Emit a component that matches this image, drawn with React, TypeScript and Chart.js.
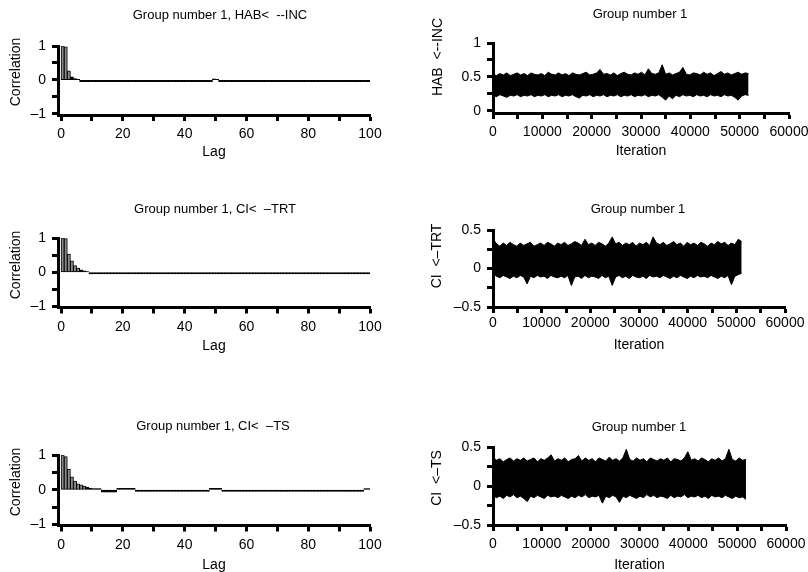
import React, { useEffect, useRef } from "react";
import { Chart, registerables } from "chart.js";

Chart.register(...registerables);

const CW = 808;
const CH = 600;
const FONT = "'Liberation Sans', Arial, Helvetica, sans-serif";

// ---------- tick definitions ----------
const lagTicks = [0, 10, 20, 30, 40, 50, 60, 70, 80, 90, 100];
const lagLabels = [0, 20, 40, 60, 80, 100];
const iterTicks = [0, 5000, 10000, 15000, 20000, 25000, 30000, 35000, 40000, 45000, 50000, 55000, 60000];
const iterLabels = [0, 10000, 20000, 30000, 40000, 50000, 60000];
const corrTicks = [-1, -0.5, 0, 0.5, 1];
const corrLabels = [-1, 0, 1];
const habTicks = [0, 0.25, 0.5, 0.75, 1];
const habLabels = [0, 0.5, 1];
const ciTicks = [-0.5, -0.25, 0, 0.25, 0.5];
const ciLabels = [-0.5, 0, 0.5];

// ---------- autocorrelation values (lag 0..100) ----------
const acfHAB = [
  1.0, 0.97, 0.27, 0.09, 0.04, 0.02, -0.05, -0.05, -0.05, -0.05,
  -0.05, -0.05, -0.05, -0.05, -0.05, -0.05, -0.05, -0.05, -0.05, -0.05,
  -0.05, -0.05, -0.05, -0.05, -0.05, -0.05, -0.05, -0.05, -0.05, -0.05,
  -0.05, -0.05, -0.05, -0.05, -0.05, -0.05, -0.05, -0.05, -0.05, -0.05,
  -0.05, -0.05, -0.05, -0.05, -0.05, -0.05, -0.05, -0.05, -0.05, 0.03,
  0.02, -0.05, -0.05, -0.05, -0.05, -0.05, -0.05, -0.05, -0.05, -0.05,
  -0.05, -0.05, -0.05, -0.05, -0.05, -0.05, -0.05, -0.05, -0.05, -0.05,
  -0.05, -0.05, -0.05, -0.05, -0.05, -0.05, -0.05, -0.05, -0.05, -0.05,
  -0.05, -0.05, -0.05, -0.05, -0.05, -0.05, -0.05, -0.05, -0.05, -0.05,
  -0.05, -0.05, -0.05, -0.05, -0.05, -0.05, -0.05, -0.05, -0.05, -0.05,
  -0.05,
];
const acfTRT = [
  1.0, 0.98, 0.53, 0.33, 0.19, 0.12, 0.07, 0.04, 0.02, -0.05,
  -0.05, -0.05, -0.05, -0.05, -0.05, -0.05, -0.05, -0.05, -0.05, -0.05,
  -0.05, -0.05, -0.05, -0.05, -0.05, -0.05, -0.05, -0.05, -0.05, -0.05,
  -0.05, -0.05, -0.05, -0.05, -0.05, -0.05, -0.05, -0.05, -0.05, -0.05,
  -0.05, -0.05, -0.05, -0.05, -0.05, -0.05, -0.05, -0.05, -0.05, -0.05,
  -0.05, -0.05, -0.05, -0.05, -0.05, -0.05, -0.05, -0.05, -0.05, -0.05,
  -0.05, -0.05, -0.05, -0.05, -0.05, -0.05, -0.05, -0.05, -0.05, -0.05,
  -0.05, -0.05, -0.05, -0.05, -0.05, -0.05, -0.05, -0.05, -0.05, -0.05,
  -0.05, -0.05, -0.05, -0.05, -0.05, -0.05, -0.05, -0.05, -0.05, -0.05,
  -0.05, -0.05, -0.05, -0.05, -0.05, -0.05, -0.05, -0.05, -0.05, -0.05,
  -0.05,
];
const acfTS = [
  1.0, 0.95, 0.59, 0.37, 0.25, 0.17, 0.14, 0.1, 0.07, 0.04,
  0.03, 0.03, 0.03, -0.07, -0.07, -0.07, -0.07, -0.07, 0.04, 0.04,
  0.04, 0.04, 0.04, 0.04, -0.05, -0.05, -0.05, -0.05, -0.05, -0.05,
  -0.05, -0.05, -0.05, -0.05, -0.05, -0.05, -0.05, -0.05, -0.05, -0.05,
  -0.05, -0.05, -0.05, -0.05, -0.05, -0.05, -0.05, -0.05, 0.04, 0.04,
  0.04, 0.04, -0.05, -0.05, -0.05, -0.05, -0.05, -0.05, -0.05, -0.05,
  -0.05, -0.05, -0.05, -0.05, -0.05, -0.05, -0.05, -0.05, -0.05, -0.05,
  -0.05, -0.05, -0.05, -0.05, -0.05, -0.05, -0.05, -0.05, -0.05, -0.05,
  -0.05, -0.05, -0.05, -0.05, -0.05, -0.05, -0.05, -0.05, -0.05, -0.05,
  -0.05, -0.05, -0.05, -0.05, -0.05, -0.05, -0.05, -0.05, 0.03, 0.03,
  0.03,
];

// ---------- trace envelopes (sampled every 700 iterations) ----------
const iterStep = 700;
const habUpper = [
  0.54, 0.52, 0.55, 0.53, 0.56, 0.52, 0.54, 0.56, 0.53, 0.55,
  0.52, 0.56, 0.54, 0.53, 0.55, 0.52, 0.57, 0.54, 0.53, 0.56,
  0.53, 0.55, 0.52, 0.56, 0.54, 0.53, 0.55, 0.57, 0.53, 0.54,
  0.56, 0.61, 0.54, 0.55, 0.53, 0.56, 0.52, 0.55, 0.57, 0.54,
  0.53, 0.56, 0.54, 0.57, 0.53, 0.62, 0.55, 0.54, 0.56, 0.68,
  0.54, 0.56, 0.53, 0.55, 0.57, 0.64, 0.54, 0.53, 0.56, 0.55,
  0.53, 0.57, 0.54, 0.56, 0.52, 0.55, 0.58, 0.54, 0.56, 0.53,
  0.55, 0.57, 0.54, 0.56, 0.55,
];
const habLower = [
  0.23, 0.21, 0.24, 0.22, 0.2, 0.23, 0.22, 0.24, 0.21, 0.23,
  0.22, 0.24, 0.21, 0.23, 0.22, 0.24, 0.21, 0.23, 0.22, 0.24,
  0.21, 0.23, 0.22, 0.24, 0.21, 0.19, 0.23, 0.22, 0.24, 0.21,
  0.23, 0.22, 0.24, 0.21, 0.23, 0.22, 0.24, 0.21, 0.23, 0.22,
  0.24, 0.21, 0.23, 0.22, 0.24, 0.21, 0.23, 0.22, 0.24, 0.2,
  0.16, 0.22, 0.18, 0.23, 0.21, 0.24, 0.22, 0.23, 0.21, 0.24,
  0.22, 0.23, 0.21, 0.24, 0.22, 0.23, 0.21, 0.24, 0.22, 0.23,
  0.2, 0.16, 0.22, 0.24, 0.23,
];
const trtUpper = [
  0.39, 0.32, 0.29, 0.33, 0.3, 0.34, 0.31, 0.29, 0.33, 0.3,
  0.32, 0.34, 0.29, 0.31, 0.33, 0.3, 0.34, 0.32, 0.29, 0.33,
  0.31, 0.34, 0.3, 0.32, 0.35, 0.33, 0.3, 0.38, 0.31, 0.33,
  0.3, 0.34, 0.32, 0.29, 0.33, 0.41, 0.32, 0.34, 0.3, 0.33,
  0.31, 0.34, 0.29, 0.33, 0.31, 0.34, 0.3, 0.41, 0.33, 0.31,
  0.34, 0.3, 0.32, 0.35, 0.31, 0.33, 0.29, 0.34, 0.31, 0.33,
  0.3, 0.34, 0.32, 0.29, 0.33, 0.31, 0.35, 0.32, 0.34, 0.3,
  0.33, 0.31, 0.38, 0.35,
];
const trtLower = [
  -0.07, -0.1, -0.12, -0.09, -0.11, -0.13, -0.1, -0.12, -0.09, -0.11,
  -0.2, -0.1, -0.12, -0.09, -0.11, -0.1, -0.13, -0.09, -0.11, -0.12,
  -0.1, -0.12, -0.09, -0.22, -0.11, -0.1, -0.13, -0.09, -0.12, -0.1,
  -0.11, -0.13, -0.09, -0.12, -0.1, -0.22, -0.11, -0.09, -0.12, -0.1,
  -0.13, -0.09, -0.11, -0.12, -0.1, -0.13, -0.09, -0.11, -0.1, -0.12,
  -0.09, -0.11, -0.13, -0.1, -0.12, -0.09, -0.11, -0.13, -0.1, -0.12,
  -0.09, -0.11, -0.1, -0.12, -0.09, -0.11, -0.13, -0.1, -0.12, -0.09,
  -0.21, -0.1, -0.08, -0.06,
];
const tsUpper = [
  0.37, 0.33, 0.35, 0.31, 0.34, 0.36, 0.32, 0.35, 0.33, 0.36,
  0.32, 0.34, 0.36, 0.31, 0.35, 0.33, 0.36, 0.4, 0.32, 0.35,
  0.33, 0.36, 0.31, 0.34, 0.35, 0.39, 0.32, 0.36, 0.33, 0.35,
  0.31, 0.36, 0.34, 0.32, 0.37, 0.33, 0.35, 0.32, 0.36, 0.47,
  0.34, 0.32, 0.36, 0.33, 0.35, 0.31, 0.36, 0.34, 0.32, 0.35,
  0.33, 0.36, 0.31, 0.35, 0.34, 0.32, 0.36, 0.44, 0.33, 0.35,
  0.32, 0.36, 0.34, 0.31, 0.35, 0.33, 0.36, 0.32, 0.35, 0.47,
  0.34, 0.32, 0.36, 0.33, 0.34,
];
const tsLower = [
  -0.12, -0.15, -0.13, -0.16, -0.12, -0.14, -0.11, -0.15, -0.13, -0.16,
  -0.2, -0.13, -0.15, -0.12, -0.14, -0.16, -0.12, -0.14, -0.13, -0.15,
  -0.12, -0.14, -0.16, -0.13, -0.15, -0.12, -0.14, -0.11, -0.15, -0.13,
  -0.14, -0.12, -0.22, -0.13, -0.15, -0.12, -0.14, -0.21, -0.13, -0.15,
  -0.12, -0.14, -0.16, -0.13, -0.15, -0.11, -0.14, -0.12, -0.15, -0.13,
  -0.14, -0.16, -0.12, -0.15, -0.13, -0.14, -0.11, -0.15, -0.13, -0.14,
  -0.12, -0.15, -0.13, -0.16, -0.12, -0.14, -0.13, -0.15, -0.12, -0.14,
  -0.16, -0.13, -0.15, -0.14, -0.17,
];

// ---------- helpers ----------
const fmt = (v: number) => (v < 0 ? "\u2013" + String(Math.abs(v)) : String(v));

const textPlugin = {
  id: "panelText",
  afterDraw(chart: any, _args: any, opts: any) {
    const ctx = chart.ctx;
    (opts.items || []).forEach((it: any) => {
      ctx.save();
      ctx.fillStyle = "#000";
      ctx.font = `${it.size}px ${FONT}`;
      ctx.textAlign = "center";
      ctx.textBaseline = "middle";
      ctx.translate(it.x, it.y);
      if (it.rotate) ctx.rotate(-Math.PI / 2);
      ctx.fillText(it.text, 0, 0);
      ctx.restore();
    });
  },
};

type Area = { left: number; right: number; top: number; bottom: number };
const YW = 50;

function xAxis(min: number, max: number, ticks: number[], labels: number[], title: string, titleY: number, area: Area, pad: number) {
  return {
    type: "linear",
    position: "bottom",
    min,
    max,
    offset: false,
    border: { display: true, width: 3, color: "#000" },
    grid: { display: true, offset: false, drawOnChartArea: false, drawTicks: true, tickLength: 6, tickWidth: 3, tickColor: "#000" },
    ticks: {
      padding: pad,
      color: "#000",
      autoSkip: false,
      maxRotation: 0,
      font: { family: FONT, size: 14 },
      callback: (v: number) => (labels.includes(v) ? fmt(v) : ""),
    },
    title: { display: true, text: title, color: "#000", padding: 0, font: { family: FONT, size: 14, lineHeight: 1 } },
    afterBuildTicks: (s: any) => {
      s.ticks = ticks.map((v) => ({ value: v }));
    },
    afterFit: (s: any) => {
      s.height = titleY + 7 - area.bottom;
      s.paddingLeft = 0;
      s.paddingRight = 0;
    },
  };
}

function yAxis(min: number, max: number, ticks: number[], labels: number[]) {
  return {
    type: "linear",
    position: "left",
    min,
    max,
    border: { display: true, width: 3, color: "#000" },
    grid: { display: true, drawOnChartArea: false, drawTicks: true, tickLength: 6, tickWidth: 3, tickColor: "#000" },
    ticks: {
      padding: 6,
      color: "#000",
      autoSkip: false,
      font: { family: FONT, size: 14 },
      callback: (v: number) => (labels.includes(v) ? fmt(v) : ""),
    },
    afterBuildTicks: (s: any) => {
      s.ticks = ticks.map((v) => ({ value: v }));
    },
    afterFit: (s: any) => {
      s.width = YW;
      s.paddingTop = 0;
      s.paddingBottom = 0;
    },
  };
}

function layoutFor(area: Area, titleY: number) {
  return {
    padding: {
      left: area.left - YW,
      right: CW - area.right,
      top: area.top,
      bottom: CH - (titleY + 7),
    },
  };
}

type AcfPanel = {
  values: number[];
  area: Area;
  title: string;
  titlePos: [number, number];
  yTitlePos: [number, number];
  xTitleY: number;
  tickPad: number;
};

function acfConfig(p: AcfPanel): any {
  return {
    type: "bar",
    data: {
      datasets: [
        {
          data: p.values.map((v, lag) => ({ x: lag + 0.5, y: v })),
          backgroundColor: (c: any) => {
            const raw = c.raw;
            return raw && Math.abs(raw.y) < 0.1 ? "#000" : "#8a8a8a";
          },
          borderColor: "#000",
          borderWidth: 1,
          borderSkipped: false,
          inflateAmount: 0.4,
          barPercentage: 1,
          categoryPercentage: 1,
        },
      ],
    },
    options: {
      responsive: false,
      animation: false,
      devicePixelRatio: 1,
      layout: layoutFor(p.area, p.xTitleY),
      plugins: {
        legend: { display: false },
        tooltip: { enabled: false },
        panelText: {
          items: [
            { text: p.title, x: p.titlePos[0], y: p.titlePos[1], size: 13 },
            { text: "Correlation", x: p.yTitlePos[0], y: p.yTitlePos[1], size: 14, rotate: true },
          ],
        },
      },
      scales: {
        x: xAxis(-1, 100, lagTicks, lagLabels, "Lag", p.xTitleY, p.area, p.tickPad),
        y: yAxis(-1.03, 1, corrTicks, corrLabels),
      },
    },
    plugins: [textPlugin],
  };
}

type TracePanel = {
  upper: number[];
  lower: number[];
  area: Area;
  yMin: number;
  yMax: number;
  yTicks: number[];
  yLabels: number[];
  yTitle: string;
  titlePos: [number, number];
  yTitlePos: [number, number];
  xTitleY: number;
  tickPad: number;
};

function traceConfig(p: TracePanel): any {
  const ds = (arr: number[]) => arr.map((v, i) => ({ x: i * iterStep, y: v }));
  return {
    type: "line",
    data: {
      datasets: [
        { data: ds(p.upper), borderColor: "#000", borderWidth: 1, pointRadius: 0, tension: 0, fill: false },
        { data: ds(p.lower), borderColor: "#000", borderWidth: 1, pointRadius: 0, tension: 0, fill: "-1", backgroundColor: "#000" },
      ],
    },
    options: {
      responsive: false,
      animation: false,
      devicePixelRatio: 1,
      layout: layoutFor(p.area, p.xTitleY),
      plugins: {
        legend: { display: false },
        tooltip: { enabled: false },
        panelText: {
          items: [
            { text: "Group number 1", x: p.titlePos[0], y: p.titlePos[1], size: 13 },
            { text: p.yTitle, x: p.yTitlePos[0], y: p.yTitlePos[1], size: 14, rotate: true },
          ],
        },
      },
      scales: {
        x: xAxis(0, 60000, iterTicks, iterLabels, "Iteration", p.xTitleY, p.area, p.tickPad),
        y: yAxis(p.yMin, p.yMax, p.yTicks, p.yLabels),
      },
    },
    plugins: [textPlugin],
  };
}

function buildConfigs(): any[] {
  return [
    acfConfig({
      values: acfHAB,
      area: { left: 58, right: 370, top: 46, bottom: 115 },
      title: "Group number 1, HAB<  --INC",
      titlePos: [220, 15],
      yTitlePos: [16, 72],
      xTitleY: 152,
      tickPad: 5,
    }),
    acfConfig({
      values: acfTRT,
      area: { left: 58, right: 370, top: 238, bottom: 307.5 },
      title: "Group number 1, CI<  \u2013TRT",
      titlePos: [215, 209],
      yTitlePos: [16, 265],
      xTitleY: 346,
      tickPad: 5,
    }),
    acfConfig({
      values: acfTS,
      area: { left: 58, right: 370, top: 455, bottom: 525.5 },
      title: "Group number 1, CI<  \u2013TS",
      titlePos: [213, 426],
      yTitlePos: [16, 482],
      xTitleY: 565,
      tickPad: 5,
    }),
    traceConfig({
      upper: habUpper,
      lower: habLower,
      area: { left: 493, right: 789, top: 43, bottom: 113 },
      yMin: -0.03,
      yMax: 1,
      yTicks: habTicks,
      yLabels: habLabels,
      yTitle: "HAB  <--INC",
      titlePos: [640, 14],
      yTitlePos: [438, 57],
      xTitleY: 151,
      tickPad: 5,
    }),
    traceConfig({
      upper: trtUpper,
      lower: trtLower,
      area: { left: 493, right: 785, top: 230, bottom: 307 },
      yMin: -0.5,
      yMax: 0.5,
      yTicks: ciTicks,
      yLabels: ciLabels,
      yTitle: "CI  <\u2013TRT",
      titlePos: [638, 209],
      yTitlePos: [437, 256],
      xTitleY: 345,
      tickPad: 2,
    }),
    traceConfig({
      upper: tsUpper,
      lower: tsLower,
      area: { left: 493, right: 786, top: 447, bottom: 525 },
      yMin: -0.5,
      yMax: 0.5,
      yTicks: ciTicks,
      yLabels: ciLabels,
      yTitle: "CI  <\u2013TS",
      titlePos: [639, 427],
      yTitlePos: [437, 478],
      xTitleY: 565,
      tickPad: 5,
    }),
  ];
}

function Panel({ index }: { index: number }) {
  const ref = useRef<HTMLCanvasElement | null>(null);
  useEffect(() => {
    if (!ref.current) return;
    const cfg = buildConfigs()[index];
    const chart = new Chart(ref.current, cfg);
    return () => chart.destroy();
  }, [index]);
  return (
    <canvas
      ref={ref}
      width={CW}
      height={CH}
      style={{ position: "absolute", left: 0, top: 0, width: CW, height: CH }}
    />
  );
}

export default function App() {
  return (
    <div
      style={{
        position: "fixed",
        left: 0,
        top: 0,
        width: 808,
        height: 572,
        overflow: "hidden",
        background: "#fff",
      }}
    >
      {[0, 1, 2, 3, 4, 5].map((i) => (
        <Panel key={i} index={i} />
      ))}
    </div>
  );
}
